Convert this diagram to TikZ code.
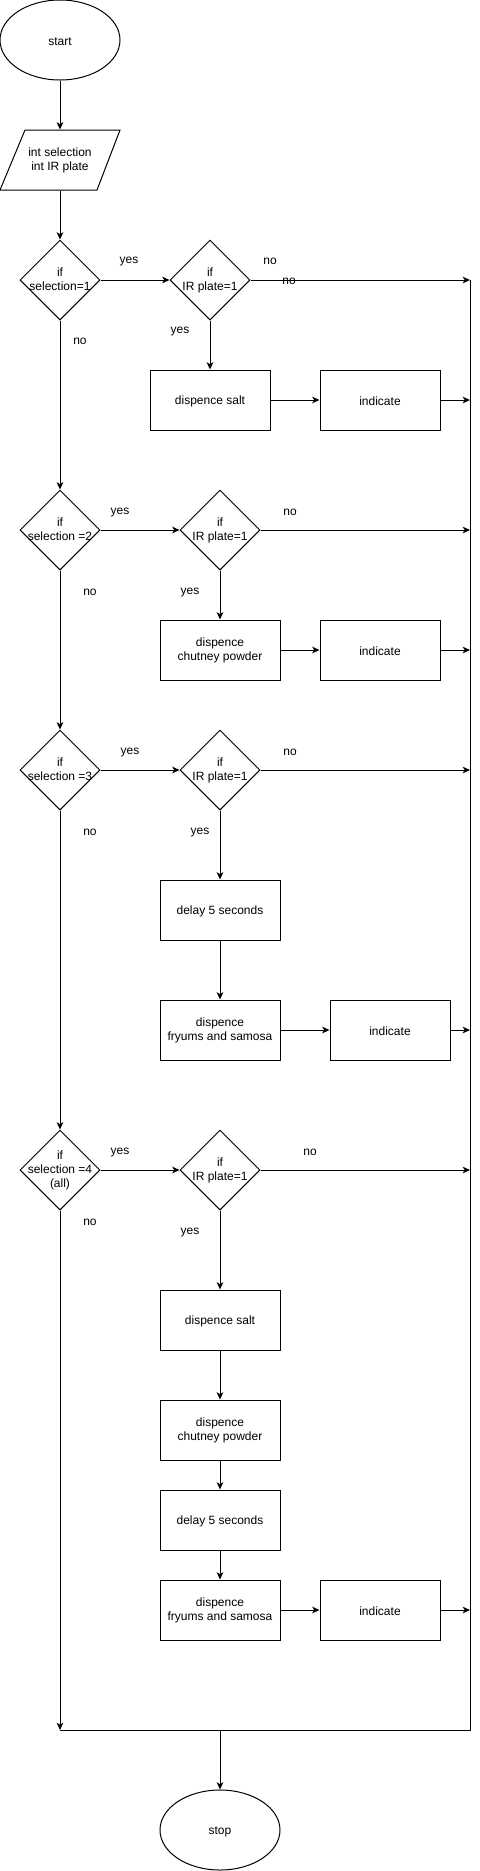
\documentclass[tikz,border=0pt]{standalone}
\usepackage{fontspec}
\setmainfont{Liberation Sans}
\usetikzlibrary{shapes.geometric,arrows.meta}
\begin{document}
\begin{tikzpicture}[x=0.75pt,y=-0.75pt,
  font=\fontsize{9}{10.5}\selectfont,
  line width=0.75pt,
  arr/.style={-{Stealth[length=5.5pt,width=5pt,inset=1.5pt]}},
  st/.style={execute at begin node={\rule{0pt}{9pt}},execute at end node={\rule[-1.5pt]{0pt}{1.5pt}}},
  box/.style={draw,rectangle,minimum width=90pt,minimum height=45pt,inner sep=0pt,align=center,st},
  term/.style={draw,ellipse,minimum width=90pt,minimum height=60pt,inner sep=0pt,st},
  dec/.style={draw,diamond,minimum width=60pt,minimum height=60pt,inner sep=0pt},
  dtext/.style={label={[align=center,inner sep=0pt,st]center:#1}},
  lbl/.style={inner sep=0pt,anchor=center,yshift=-1.1pt}
]
\useasboundingbox (0,0) rectangle (479,1871);

% nodes
\node[term] (start) at (60,40) {start};
\node[minimum width=90pt,minimum height=45pt,inner sep=0pt,align=center,st] (inp) at (60,160) {int selection\\int IR plate};
\draw (25,130) -- (120,130) -- (97,190) -- (0,190) -- cycle;

\node[dec,dtext={if\\selection=1}] (s1) at (60,280) {};
\node[dec,dtext={if\\IR plate=1}] (i1) at (210,280) {};
\node[box] (b11) at (210,400) {dispence salt};
\node[box] (ind1) at (380,400) {indicate};

\node[dec,dtext={if\\selection =2}] (s2) at (60,530) {};
\node[dec,dtext={if\\IR plate=1}] (i2) at (220,530) {};
\node[box] (b21) at (220,650) {dispence\\chutney powder};
\node[box] (ind2) at (380,650) {indicate};

\node[dec,dtext={if\\selection =3}] (s3) at (60,770) {};
\node[dec,dtext={if\\IR plate=1}] (i3) at (220,770) {};
\node[box] (b31) at (220,910) {delay 5 seconds};
\node[box] (b32) at (220,1030) {dispence\\fryums and samosa};
\node[box] (ind3) at (390,1030) {indicate};

\node[dec,dtext={if\\selection =4\\(all)}] (s4) at (60,1170) {};
\node[dec,dtext={if\\IR plate=1}] (i4) at (220,1170) {};
\node[box] (b41) at (220,1320) {dispence salt};
\node[box] (b42) at (220,1430) {dispence\\chutney powder};
\node[box] (b43) at (220,1520) {delay 5 seconds};
\node[box] (b44) at (220,1610) {dispence\\fryums and samosa};
\node[box] (ind4) at (380,1610) {indicate};

\node[term] (stop) at (220,1830) {stop};

\coordinate (rtop) at (470,280);
\coordinate (rbot) at (470,1730);
\coordinate (join) at (60,1730);
\coordinate (jmid) at (220,1730);

% connectors
\draw[arr] (start.south) -- (inp.north);
\draw[arr] (inp.south) -- (s1.north);

\draw[arr] (s1.east) -- (i1.west);
\draw[arr] (i1.east) -- (i1.east -| rtop);
\draw[arr] (i1.south) -- (b11.north);
\draw[arr] (b11.east) -- (ind1.west);
\draw[arr] (ind1.east) -- (ind1.east -| rtop);
\draw[arr] (s1.south) -- (s2.north);

\draw[arr] (s2.east) -- (i2.west);
\draw[arr] (i2.east) -- (i2.east -| rtop);
\draw[arr] (i2.south) -- (b21.north);
\draw[arr] (b21.east) -- (ind2.west);
\draw[arr] (ind2.east) -- (ind2.east -| rtop);
\draw[arr] (s2.south) -- (s3.north);

\draw[arr] (s3.east) -- (i3.west);
\draw[arr] (i3.east) -- (i3.east -| rtop);
\draw[arr] (i3.south) -- (b31.north);
\draw[arr] (b31.south) -- (b32.north);
\draw[arr] (b32.east) -- (ind3.west);
\draw[arr] (ind3.east) -- (ind3.east -| rtop);
\draw[arr] (s3.south) -- (s4.north);

\draw[arr] (s4.east) -- (i4.west);
\draw[arr] (i4.east) -- (i4.east -| rtop);
\draw[arr] (i4.south) -- (b41.north);
\draw[arr] (b41.south) -- (b42.north);
\draw[arr] (b42.south) -- (b43.north);
\draw[arr] (b43.south) -- (b44.north);
\draw[arr] (b44.east) -- (ind4.west);
\draw[arr] (ind4.east) -- (ind4.east -| rtop);
\draw[arr] (s4.south) -- (join);

\draw (rtop) -- (rbot) -- (join);
\draw[arr] (jmid) -- (stop.north);

% labels
\node[lbl] (y1a) at (129,260) {yes};
\node[lbl] (n1a) at (270,260) {no};
\node[lbl] (n1b) at (289,280) {no};
\node[lbl] (y1b) at (180,330) {yes};
\node[lbl] (n1c) at (80,340) {no};

\node[lbl] (y2a) at (120,511) {yes};
\node[lbl] (n2a) at (290,511) {no};
\node[lbl] (n2c) at (90,591) {no};
\node[lbl] (y2b) at (190,591) {yes};

\node[lbl] (y3a) at (130,751) {yes};
\node[lbl] (n3a) at (290,751) {no};
\node[lbl] (n3c) at (90,831) {no};
\node[lbl] (y3b) at (200,831) {yes};

\node[lbl] (y4a) at (120,1151) {yes};
\node[lbl] (n4a) at (310,1151) {no};
\node[lbl] (n4c) at (90,1221) {no};
\node[lbl] (y4b) at (190,1231) {yes};
\end{tikzpicture}
\end{document}
